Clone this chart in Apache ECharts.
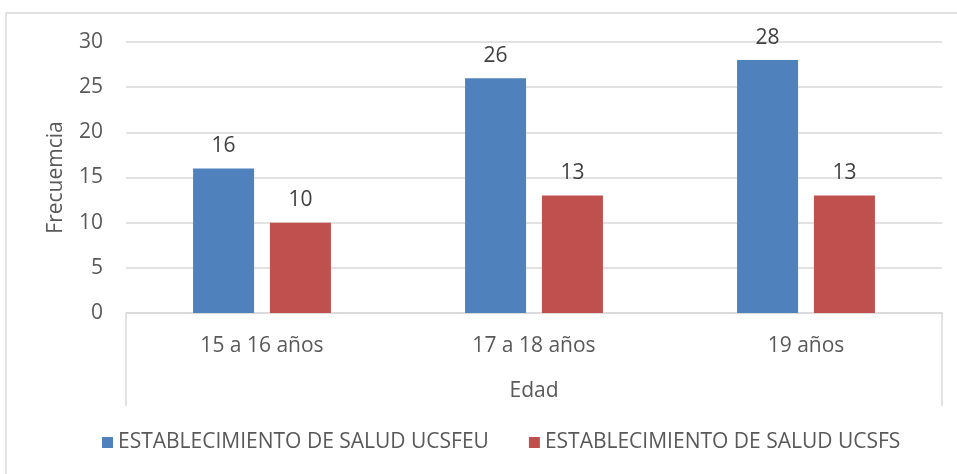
<!DOCTYPE html>
<html>
<head>
<meta charset="utf-8">
<script src="https://cdn.jsdelivr.net/npm/echarts@6/dist/echarts.min.js"></script>
<style>
  html, body { margin: 0; padding: 0; background: #fff; }
  #chart { width: 957px; height: 474px; }
</style>
</head>
<body>
<div id="chart"></div>
<script>
// datos
const categorias = ['15 a 16 años', '17 a 18 años', '19 años'];
const ucsfeu = [16, 26, 28];
const ucsfs = [10, 13, 13];
const yTicks = [0, 5, 10, 15, 20, 25, 30];

const chart = echarts.init(document.getElementById('chart'));
const fuente = 'Open Sans';
const gris = '#595959';

const grid = { left: 126, right: 15, top: 42, bottom: 161 };

const option = {
  animation: false,
  textStyle: { fontFamily: fuente },
  color: ['#4F81BD', '#C0504D'],
  grid: grid,
  legend: {
    bottom: 16,
    left: 97,
    itemWidth: 11,
    itemHeight: 11,
    itemGap: 40,
    icon: 'rect',
    textStyle: { fontSize: 21, color: gris, fontFamily: fuente },
    data: ['ESTABLECIMIENTO DE SALUD UCSFEU', 'ESTABLECIMIENTO DE SALUD UCSFS']
  },
  xAxis: {
    type: 'category',
    data: categorias,
    name: 'Edad',
    nameLocation: 'middle',
    nameGap: 68,
    nameMoveOverlap: false,
    nameTextStyle: { fontSize: 21, color: gris },
    axisLine: { lineStyle: { color: '#d9d9d9', width: 1.5 } },
    axisTick: { show: false },
    axisLabel: { fontSize: 21, color: gris, margin: 23 }
  },
  yAxis: {
    type: 'value',
    min: yTicks[0],
    max: yTicks[yTicks.length - 1],
    interval: 5,
    name: 'Frecuemcia',
    nameLocation: 'middle',
    nameGap: 59,
    nameMoveOverlap: false,
    nameTextStyle: { fontSize: 21, color: gris },
    axisLine: { show: false },
    axisTick: { show: false },
    axisLabel: { fontSize: 21, color: gris, margin: 23 },
    splitLine: { lineStyle: { color: '#d9d9d9', width: 1.5 } }
  },
  series: [
    {
      name: 'ESTABLECIMIENTO DE SALUD UCSFEU',
      type: 'bar',
      data: ucsfeu,
      barWidth: 61,
      barGap: '26%',
      label: { show: true, position: 'top', distance: 12, fontSize: 21, color: '#404040' }
    },
    {
      name: 'ESTABLECIMIENTO DE SALUD UCSFS',
      type: 'bar',
      data: ucsfs,
      barWidth: 61,
      label: { show: true, position: 'top', distance: 12, fontSize: 21, color: '#404040' }
    }
  ]
};

chart.setOption(option);

// marco y lineas laterales del eje de categorias
const xIzq = grid.left;
const xDer = chart.getWidth() - grid.right;
const yCero = chart.convertToPixel({ yAxisIndex: 0 }, 0);
const bajo = 93;
chart.setOption({
  graphic: [
    {
      type: 'rect',
      shape: { x: 6, y: 13, width: 1000, height: 500 },
      style: { fill: 'none', stroke: '#d9d9d9', lineWidth: 1.5 },
      silent: true
    },
    {
      type: 'line',
      shape: { x1: xIzq, y1: yCero, x2: xIzq, y2: yCero + bajo },
      style: { stroke: '#d9d9d9', lineWidth: 1.5 },
      silent: true
    },
    {
      type: 'line',
      shape: { x1: xDer, y1: yCero, x2: xDer, y2: yCero + bajo },
      style: { stroke: '#d9d9d9', lineWidth: 1.5 },
      silent: true
    }
  ]
});
</script>
</body>
</html>
